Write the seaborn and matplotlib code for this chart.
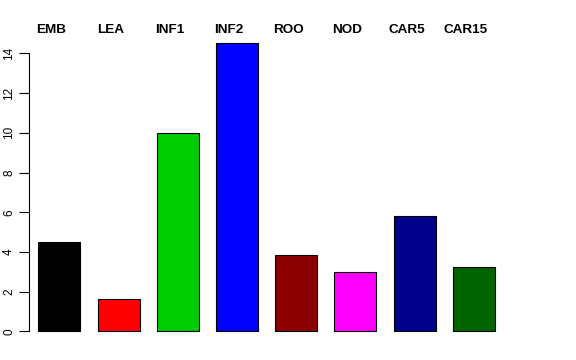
# recreating an R-style barplot with seaborn
import pandas as pd
import matplotlib
matplotlib.use('Agg')
import matplotlib.pyplot as plt
import seaborn as sns

sns.set_theme(style='white')
plt.rcParams['font.family'] = ['Liberation Sans', 'DejaVu Sans']
plt.rcParams['text.color'] = 'black'
plt.rcParams['ytick.color'] = 'black'

# data
labels = ['EMB', 'LEA', 'INF1', 'INF2', 'ROO', 'NOD', 'CAR5', 'CAR15']
values = [4.51, 1.61, 9.99, 14.55, 3.85, 2.99, 5.79, 3.25]
colors = ['#000000', '#FF0000', '#00CD00', '#0000FF', '#8B0000', '#FF00FF', '#00008B', '#006400']
yticks = [0, 2, 4, 6, 8, 10, 12, 14]

df = pd.DataFrame({'tissue': labels, 'value': values})

fig = plt.figure(figsize=(5.76, 3.6), dpi=100)
ax = fig.add_axes([29/576, 17.1/360, 484/576, 312.9/360])

sns.barplot(data=df, x='tissue', y='value', hue='tissue', palette=colors,
            legend=False, width=0.71, edgecolor='black', linewidth=0.8,
            saturation=1, ax=ax)

ax.set_xlim(-0.512, 7.66)
ax.set_ylim(-0.584, 15.18)
ax.set_xlabel('')
ax.set_ylabel('')
ax.set_xticks([])
ax.set_yticks(yticks)
ax.set_yticklabels([str(t) for t in yticks], rotation=90, va='center', fontsize=8.5)
ax.tick_params(axis='y', left=True, length=7, width=0.8, color='black',
               labelcolor='black', pad=3)

for s in ['top', 'right', 'bottom']:
    ax.spines[s].set_visible(False)
ax.spines['left'].set_bounds(0, 14)
ax.spines['left'].set_color('black')
ax.spines['left'].set_linewidth(0.8)

# names on top
for i, lab in enumerate(labels):
    ax.text(i - 0.135, 1.0, lab, transform=ax.get_xaxis_transform(),
            ha='center', va='center', fontsize=9.7, fontweight='bold',
            color='black')

fig.savefig('out.png', dpi=100)
